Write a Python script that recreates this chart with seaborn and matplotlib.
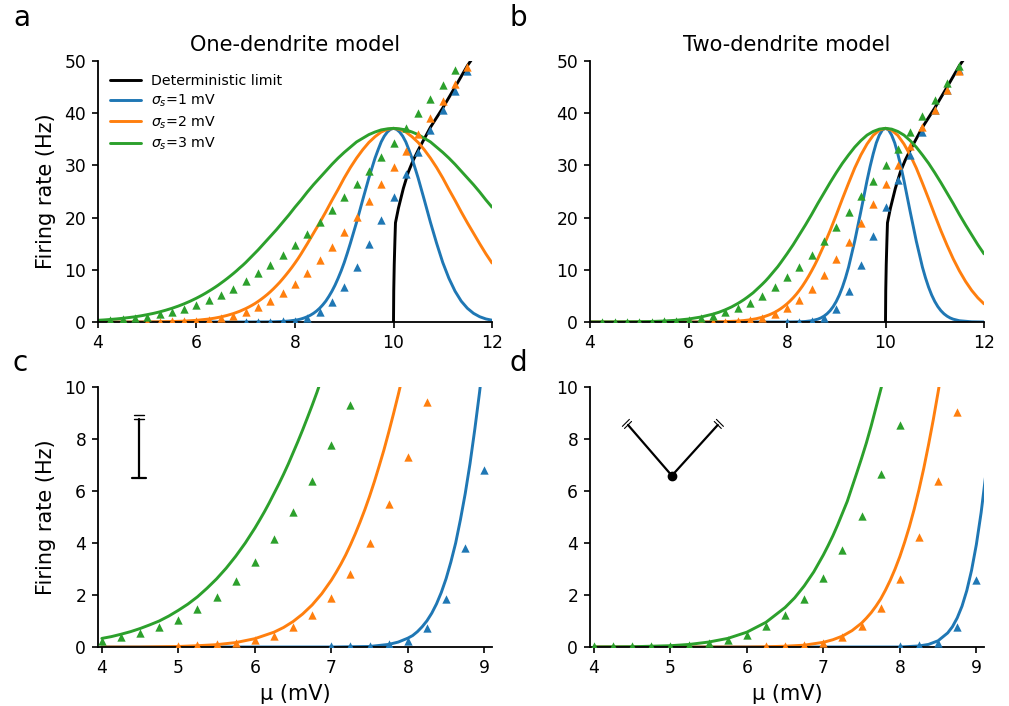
import matplotlib
matplotlib.use("Agg")
import matplotlib.pyplot as plt
import pandas as pd
import seaborn as sns

# marker grid (mV), None where no marker shows
mu_sim = [4 + 0.25 * i for i in range(31)]

# one-dendrite simulation
one_sim_s1 = [None, None, None, None, None, None, None, None, None, None, None, None, 0.02, 0.03, 0.05, 0.1, 0.24,
              0.75, 1.84, 3.82, 6.8, 10.6, 14.9, 19.5, 24.0, 28.3, 32.6, 36.8, 40.6, 44.3, 48.0]
one_sim_s2 = [None, None, None, None, 0.05, 0.07, 0.1, 0.15, 0.26, 0.44, 0.76, 1.22, 1.88, 2.8, 4.0, 5.5, 7.32, 9.44,
              11.8, 14.4, 17.2, 20.1, 23.2, 26.4, 29.6, 32.7, 36.1, 39.1, 42.4, 45.5, 48.8]
one_sim_s3 = [0.25, 0.38, 0.54, 0.77, 1.05, 1.46, 1.92, 2.53, 3.27, 4.14, 5.18, 6.39, 7.76, 9.3, 10.9, 12.8,
              14.7, 16.8, 19.2, 21.5, 23.9, 26.4, 29.0, 31.6, 34.3, 37.1, 40.0, 42.7, 45.4, 48.3, 51.2]

# two-dendrite simulation
two_sim_s1 = [None, None, None, None, None, None, None, None, None, None, None, None, None, None, None, None, 0.05,
              0.08, 0.15, 0.78, 2.56, 5.9, 10.9, 16.4, 22.0, 27.2, 32.0, 36.4, 40.6, 44.4, 48.2]
two_sim_s2 = [None, None, None, None, None, None, None, None, None, 0.02, 0.05, 0.09, 0.15, 0.38, 0.79, 1.5, 2.61,
              4.23, 6.39, 9.04, 12.0, 15.3, 19.0, 22.7, 26.4, 30.0, 33.7, 37.3, 40.7, 44.4, 48.0]
two_sim_s3 = [0.02, 0.02, 0.02, 0.02, 0.03, 0.09, 0.15, 0.28, 0.47, 0.79, 1.23, 1.85, 2.66, 3.72, 5.05, 6.66,
              8.53, 10.5, 12.9, 15.5, 18.2, 21.1, 24.1, 27.0, 30.1, 33.2, 36.4, 39.5, 42.6, 45.8, 49.0]

# deterministic limit
det_mu = [10, 10.005, 10.015, 10.03, 10.04, 10.1, 10.2, 10.3, 10.4, 10.5, 10.75, 11, 11.25, 11.5, 11.75]
det_rate = [0, 6.0, 11.0, 16.0, 19.0, 21.8, 25.6, 28.7, 31.0, 32.9, 37.3, 41.0, 45.0, 49.1, 52.5]

# one-dendrite theory, sigma 1
one_mu_s1 = [4, 7, 7.25, 7.5, 7.75, 7.875, 8, 8.0625, 8.125, 8.1875, 8.25, 8.3125, 8.375, 8.4375, 8.5, 8.5625,
             8.625, 8.6875, 8.75, 8.8125, 8.875, 8.9375, 9, 9.0625, 9.125, 9.25, 9.375, 9.5,
             9.625, 9.6875, 9.75, 9.8125, 9.875, 9.9375, 10, 10.0625, 10.125, 10.1875, 10.25, 10.3125, 10.375,
             10.5, 10.625, 10.75, 10.875, 11, 11.125, 11.25, 11.375, 11.5, 11.625, 11.75, 11.875, 12]
one_th_s1 = [0, 0, 0.01, 0.02, 0.1, 0.19, 0.34, 0.44, 0.59, 0.78, 1.01, 1.3, 1.66, 2.1, 2.63, 3.27,
             4.0, 4.9, 5.9, 7.05, 8.37, 9.8, 11.4, 13.2, 15.1, 19.1, 23.4, 27.6,
             31.4, 33.0, 34.5, 35.6, 36.4, 36.9, 37.1, 36.9, 36.4, 35.6, 34.5, 33.0, 31.4,
             27.6, 23.4, 19.1, 15.1, 11.4, 8.37, 5.9, 4.0, 2.63, 1.66, 1.01, 0.59, 0.34]

# one-dendrite theory, sigma 2
one_mu_s2 = [4, 4.5, 5, 5.25, 5.5, 5.75, 6, 6.25, 6.375, 6.5, 6.625, 6.75, 6.875, 7, 7.0625, 7.125, 7.1875, 7.25,
             7.3125, 7.375, 7.4375, 7.5, 7.5625, 7.625, 7.6875, 7.75, 7.8125, 7.875, 7.9375, 8, 8.0625, 8.125, 8.25,
             8.375, 8.5, 8.625, 8.75, 8.875, 9, 9.125, 9.25, 9.375, 9.5, 9.625, 9.75, 9.875, 10,
             10.125, 10.25, 10.375, 10.5, 10.625, 10.75, 10.875, 11, 11.125, 11.25, 11.375, 11.5, 11.625, 11.75,
             11.875, 12]
one_th_s2 = [0, 0, 0.02, 0.05, 0.09, 0.17, 0.32, 0.57, 0.75, 0.98, 1.27, 1.62, 2.05, 2.57, 2.87, 3.19, 3.54, 3.93,
             4.35, 4.8, 5.28, 5.8, 6.36, 6.96, 7.58, 8.26, 8.97, 9.71, 10.48, 11.3, 12.15, 13.07, 15.0,
             17.0, 19.0, 21.1, 23.3, 25.4, 27.6, 29.6, 31.4, 33.0, 34.4, 35.5, 36.4, 36.9, 37.1,
             36.9, 36.4, 35.5, 34.4, 33.0, 31.4, 29.6, 27.6, 25.4, 23.3, 21.1, 19.0, 17.0, 15.0,
             13.07, 11.3]

# one-dendrite theory, sigma 3
one_mu_s3 = [4, 4.125, 4.25, 4.375, 4.5, 4.625, 4.75, 4.875, 5, 5.125, 5.25, 5.375, 5.5, 5.625, 5.75, 5.875, 6,
             6.0625, 6.125, 6.1875, 6.25, 6.3125, 6.375, 6.4375, 6.5, 6.5625, 6.625, 6.6875, 6.75, 6.8125, 6.875,
             6.9375, 7, 7.125, 7.25, 7.375, 7.5, 7.625, 7.75, 7.875, 8, 8.125, 8.25, 8.375, 8.5, 8.625, 8.75, 8.875,
             9, 9.125, 9.25, 9.375, 9.5, 9.625, 9.75, 9.875, 10,
             10.125, 10.25, 10.375, 10.5, 10.625, 10.75, 10.875, 11, 11.125, 11.25, 11.375, 11.5, 11.625, 11.75,
             11.875, 12]
one_th_s3 = [0.33, 0.4, 0.49, 0.59, 0.71, 0.85, 1.0, 1.19, 1.41, 1.65, 1.93, 2.26, 2.62, 3.03, 3.49, 4.0, 4.57,
             4.88, 5.2, 5.54, 5.9, 6.26, 6.64, 7.04, 7.47, 7.9, 8.35, 8.82, 9.3, 9.8, 10.34,
             10.85, 11.4, 12.6, 13.8, 15.1, 16.4, 17.7, 19.1, 20.5, 22.0, 23.4, 24.9, 26.3, 27.6, 28.9, 30.2, 31.4,
             32.5, 33.5, 34.5, 35.2, 35.9, 36.4, 36.8, 37.0, 37.1,
             37.0, 36.8, 36.4, 35.9, 35.2, 34.5, 33.5, 32.5, 31.4, 30.2, 28.9, 27.6, 26.3, 24.9,
             23.4, 22.0]

# two-dendrite theory, sigma 1
two_mu_s1 = [4, 8, 8.25, 8.375, 8.5, 8.625, 8.6875, 8.75, 8.8125, 8.875, 8.9375, 9, 9.0625, 9.125, 9.1875, 9.25,
             9.375, 9.5, 9.625, 9.6875, 9.75, 9.8125, 9.875, 9.9375, 10,
             10.0625, 10.125, 10.1875, 10.25, 10.3125, 10.375, 10.5, 10.625, 10.75, 10.8125, 10.875, 10.9375, 11,
             11.0625, 11.125, 11.1875, 11.25, 11.3125, 11.375, 11.5, 11.75, 12]
two_th_s1 = [0, 0, 0.04, 0.1, 0.24, 0.54, 0.78, 1.12, 1.57, 2.17, 2.95, 3.94, 5.17, 6.67, 8.45, 10.5,
             15.5, 21.2, 27.1, 29.8, 32.2, 34.3, 35.8, 36.8, 37.1,
             36.8, 35.8, 34.3, 32.2, 29.8, 27.1, 21.2, 15.5, 10.5, 8.45, 6.67, 5.17, 3.94,
             2.95, 2.17, 1.57, 1.12, 0.78, 0.54, 0.24, 0.04, 0]

# two-dendrite theory, sigma 2
two_mu_s2 = [4, 6, 6.25, 6.5, 6.75, 7, 7.125, 7.25, 7.375, 7.5, 7.5625, 7.625, 7.6875, 7.75, 7.8125, 7.875, 7.9375,
             8, 8.0625, 8.125, 8.1875, 8.25, 8.3125, 8.375, 8.4375, 8.5, 8.5625, 8.625, 8.75, 8.875, 9, 9.125, 9.25,
             9.375, 9.5, 9.625, 9.75, 9.875, 10,
             10.125, 10.25, 10.375, 10.5, 10.625, 10.75, 10.875, 11, 11.125, 11.25, 11.375, 11.5, 11.625, 11.75,
             11.875, 12]
two_th_s2 = [0, 0, 0.01, 0.03, 0.07, 0.18, 0.28, 0.42, 0.63, 0.92, 1.11, 1.32, 1.57, 1.85, 2.19, 2.57, 3.0,
             3.48, 4.03, 4.63, 5.3, 6.05, 6.87, 7.78, 8.75, 9.8, 10.9, 12.1, 14.7, 17.5, 20.5, 23.6, 26.6,
             29.5, 32.0, 34.1, 35.75, 36.75, 37.1,
             36.75, 35.75, 34.1, 32.0, 29.5, 26.6, 23.6, 20.5, 17.5, 14.7, 12.1, 9.8, 7.78, 6.05,
             4.63, 3.48]

# two-dendrite theory, sigma 3
two_mu_s3 = [4, 4.5, 4.75, 5, 5.25, 5.5, 5.75, 6, 6.25, 6.5, 6.625, 6.75, 6.875, 7, 7.0625, 7.125, 7.1875, 7.25,
             7.3125, 7.375, 7.4375, 7.5, 7.5625, 7.625, 7.6875, 7.75, 7.8125, 7.875, 8, 8.125, 8.25, 8.375, 8.5,
             8.625, 8.75, 8.875, 9, 9.125, 9.25, 9.375, 9.5, 9.625, 9.75, 9.875, 10,
             10.125, 10.25, 10.375, 10.5, 10.625, 10.75, 10.875, 11, 11.125, 11.25, 11.375, 11.5, 11.625, 11.75,
             11.875, 12]
two_th_s3 = [0, 0.01, 0.03, 0.05, 0.1, 0.19, 0.33, 0.57, 0.95, 1.52, 1.89, 2.35, 2.89, 3.54, 3.9, 4.28, 4.7, 5.15,
             5.6, 6.15, 6.7, 7.26, 7.85, 8.5, 9.2, 9.9, 10.6, 11.4, 13.06, 14.8, 16.7, 18.6, 20.6,
             22.7, 24.7, 26.7, 28.6, 30.4, 32.0, 33.5, 34.75, 35.8, 36.5, 36.95, 37.1,
             36.95, 36.5, 35.8, 34.75, 33.5, 32.0, 30.4, 28.6, 26.7, 24.7, 22.7, 20.6, 18.6, 16.7,
             14.8, 13.06]

sigma_labels = ["$\\sigma_s$=1 mV", "$\\sigma_s$=2 mV", "$\\sigma_s$=3 mV"]
colors = ["#1f77b4", "#ff7f0e", "#2ca02c"]

# neuron sketches, in data units of panels c and d
bar_mu = [4.49, 4.49]
bar_rate = [6.5, 8.78]
v_mu = [4.447, 5.02, 5.62]
v_rate = [8.54, 6.59, 8.54]

sns.set_theme(style="ticks", rc={"font.family": "DejaVu Sans", "axes.linewidth": 1.3, "xtick.major.width": 1.2,
                                 "ytick.major.width": 1.2, "xtick.major.size": 4.5, "ytick.major.size": 4.5,
                                 "xtick.labelsize": 12.3, "ytick.labelsize": 12.3, "axes.labelsize": 15,
                                 "axes.titlesize": 15.1, "text.color": "black", "axes.labelcolor": "black",
                                 "xtick.color": "black", "ytick.color": "black", "axes.edgecolor": "black",
                                 "path.simplify": False})

W, H = 1009, 706
fig = plt.figure(figsize=(W / 100, H / 100), dpi=100)


def box(x0, y0, x1, y1):
    return [x0 / W, 1 - y1 / H, (x1 - x0) / W, (y1 - y0) / H]


ax_a = fig.add_axes(box(98, 61, 492, 322))
ax_b = fig.add_axes(box(590, 61, 984, 322))
ax_c = fig.add_axes(box(98, 387, 492, 647))
ax_d = fig.add_axes(box(590, 387, 984, 647))


def draw(ax, theory, sim, skip_first):
    sns.lineplot(x=det_mu, y=det_rate, color="black", lw=2.1, estimator=None, sort=False, ax=ax,
                 label="Deterministic limit")
    for (mu_th, rate_th), label, color in zip(theory, sigma_labels, colors):
        sns.lineplot(x=mu_th, y=rate_th, color=color, lw=2.1, estimator=None, sort=False, ax=ax, label=label)
    start = 1 if skip_first else 0
    for rate_sim, color in zip(sim, colors):
        df = pd.DataFrame({"mu": mu_sim[start:], "rate": rate_sim[start:]}).dropna()
        sns.scatterplot(data=df, x="mu", y="rate", color=color, marker="^", s=36, linewidth=0, ax=ax,
                        legend=False, zorder=3)
    ax.set_xlabel("")
    ax.set_ylabel("")


one_theory = [(one_mu_s1, one_th_s1), (one_mu_s2, one_th_s2), (one_mu_s3, one_th_s3)]
two_theory = [(two_mu_s1, two_th_s1), (two_mu_s2, two_th_s2), (two_mu_s3, two_th_s3)]
one_sim = [one_sim_s1, one_sim_s2, one_sim_s3]
two_sim = [two_sim_s1, two_sim_s2, two_sim_s3]

draw(ax_a, one_theory, one_sim, True)
draw(ax_b, two_theory, two_sim, True)
draw(ax_c, one_theory, one_sim, False)
draw(ax_d, two_theory, two_sim, False)

for ax in [ax_a, ax_b]:
    ax.set_xlim(4, 12)
    ax.set_ylim(0, 50)
    ax.set_xticks([4, 6, 8, 10, 12])
    ax.set_yticks([0, 10, 20, 30, 40, 50])
for ax in [ax_c, ax_d]:
    ax.set_xlim(3.95, 9.1)
    ax.set_ylim(0, 10)
    ax.set_xticks([4, 5, 6, 7, 8, 9])
    ax.set_yticks([0, 2, 4, 6, 8, 10])
    ax.set_xlabel("μ (mV)", labelpad=5)
for ax in [ax_a, ax_b, ax_c, ax_d]:
    sns.despine(ax=ax)
    ax.tick_params(axis="both", pad=4)

ax_a.set_ylabel("Firing rate (Hz)", labelpad=6)
ax_c.set_ylabel("Firing rate (Hz)", labelpad=6)
ax_a.set_title("One-dendrite model", pad=7.5)
ax_b.set_title("Two-dendrite model", pad=7.5)

ax_a.legend(loc="upper left", frameon=False, fontsize=10.2, bbox_to_anchor=(-0.003, 1.0), labelspacing=0.36,
            handlelength=2.2, handletextpad=0.7)
ax_b.get_legend().remove()
ax_c.get_legend().remove()
ax_d.get_legend().remove()

# sketch of the one-dendrite cell
ax_c.plot(bar_mu, bar_rate, color="black", lw=1.6, zorder=4)
ax_c.plot([4.398, 4.582], [6.5, 6.5], color="black", lw=1.6, zorder=4)
ax_c.plot([4.425, 4.555], [8.78, 8.78], color="black", lw=1.0, zorder=4)
ax_c.plot([4.425, 4.555], [8.91, 8.91], color="black", lw=1.0, zorder=4)

# sketch of the two-dendrite cell
ax_d.plot(v_mu, v_rate, color="black", lw=1.6, zorder=4)
ax_d.plot([5.02], [6.59], marker="o", ms=6, color="black", zorder=5)
ax_d.plot([4.401, 4.493], [8.405, 8.675], color="black", lw=0.8, zorder=4)
ax_d.plot([4.373, 4.465], [8.485, 8.755], color="black", lw=0.8, zorder=4)
ax_d.plot([5.666, 5.574], [8.405, 8.675], color="black", lw=0.8, zorder=4)
ax_d.plot([5.694, 5.602], [8.485, 8.755], color="black", lw=0.8, zorder=4)

for letter, pos in [("a", (13, 26)), ("b", (510, 26)), ("c", (13, 371)), ("d", (510, 371))]:
    fig.text(pos[0] / W, 1 - pos[1] / H, letter, fontsize=20, color="black")

fig.savefig("out.png", dpi=100)
